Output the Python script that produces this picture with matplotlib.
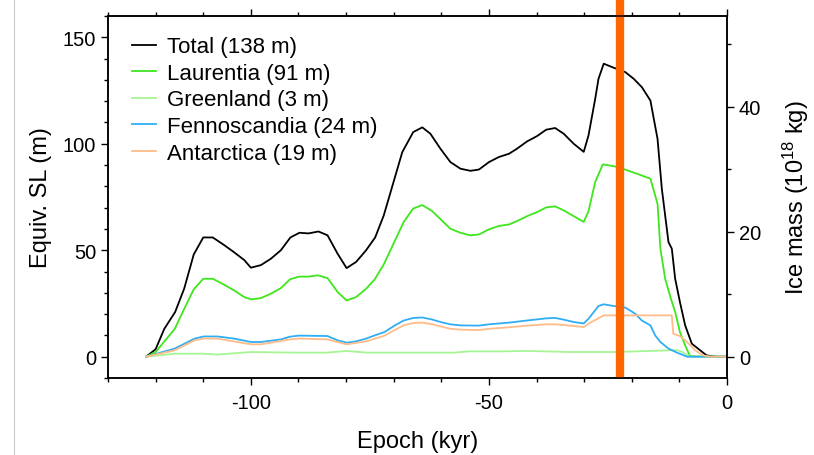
import matplotlib
matplotlib.use("Agg")
from matplotlib import pyplot as plt
from matplotlib.lines import Line2D
from matplotlib.ticker import MultipleLocator

plt.rcParams['font.family'] = ['Liberation Sans', 'DejaVu Sans']
plt.rcParams['mathtext.fontset'] = 'custom'
plt.rcParams['mathtext.rm'] = 'Liberation Sans'
plt.rcParams['mathtext.default'] = 'regular'
plt.rcParams['axes.unicode_minus'] = False

# ice sheet histories, epoch in kyr, equivalent sea level in m
total_t = [-122, -120, -118.2, -115.9, -114, -112, -110, -108, -105.6, -103.5, -101.4, -100,
           -97.9, -95.8, -93.7, -91.7, -89.8, -87.9, -85.8, -83.9, -81.8, -79.9, -77.9, -75.8,
           -73.9, -72.1, -68.2, -65.9, -64, -62.3, -60.2, -58.1, -56, -53.9, -52.1, -50, -47.9,
           -45.8, -44.1, -42, -39.9, -38, -36.1, -34.3, -32.2, -30.1, -29.1, -27.7, -27, -25.9,
           -23.8, -21.4, -19.6, -17.9, -16.1, -14.6, -13.7, -12.3, -11.6, -10.9, -9.9, -8.8,
           -7.4, -4.3, -2.2, 0]
total_sl = [0, 3.5, 13, 21, 32, 48, 56, 56, 52.4, 49, 45.4, 41.8,
            43, 46, 50, 56, 58.2, 57.9, 58.8, 57, 48.4, 41.6, 44.5, 50,
            56, 66.3, 96.1, 105.5, 107.7, 104.7, 97.7, 91.4, 88.3, 87.3, 87.9, 91.4, 93.8,
            95.3, 97.7, 101.1, 103.6, 106.6, 107.4, 104.7, 100, 96.2, 103.9, 121, 130.5, 137.6,
            135.7, 133.7, 130.5, 126.6, 120.3, 102.3, 78.9, 53.8, 50.7, 36.6, 25.7, 14.7,
            6.1, 0.6, 0, 0]

laur_t = [-122, -120, -116, -114, -112, -110, -108, -105.6, -103.5, -101.4, -99.9, -97.9,
          -95.8, -93.7, -91.8, -89.9, -88, -85.9, -83.9, -81.8, -79.9, -77.9, -75.8, -74,
          -72, -69.9, -67.9, -65.9, -64, -62, -59.9, -58.1, -56, -53.9, -52.1, -50, -47.9,
          -45.8, -44.1, -42, -39.9, -38, -36.1, -34.3, -32.2, -30.1, -29.1, -27.7, -26.1,
          -23.8, -21.4, -18.9, -16.1, -14.6, -14, -13, -11.9, -10.9, -9.9, -8.8, -7.8, -5, 0]
laur_sl = [0, 2.2, 13, 22.5, 31.6, 36.6, 36.6, 33.8, 31.1, 28, 26.9, 27.5,
           29.6, 32.2, 36.3, 37.6, 37.6, 38.2, 36.9, 30.4, 26.4, 28, 31.9, 36.3,
           43.7, 53.8, 63.3, 69.6, 71.2, 68.5, 64, 60.1, 58.2, 57, 57.4, 59.8, 61.4,
           62.1, 63.7, 66, 67.9, 70.1, 70.6, 68.7, 66, 63.3, 68.3, 82, 90.3,
           89.5, 87.9, 85.9, 83.6, 71.8, 50.7, 36.6, 28, 21, 11.6, 5.3, 0.3, 0, 0]

green_t = [-122, -116, -110, -107, -100, -90, -84, -80, -75.5, -64, -57.4, -54, -47, -42,
           -33, -23.5, -12, -10.3, -9.2, -7.8, 0]
green_sl = [0, 1.4, 1.4, 1.0, 2.2, 1.9, 1.9, 2.7, 1.9, 1.9, 1.9, 2.5, 2.5, 2.7,
            2.2, 2.2, 3.0, 3.0, 1.9, 0, 0]

fenno_t = [-122, -116, -111.8, -109.9, -107, -103.5, -100, -97.9, -93.7, -91.8, -89.9, -83.9,
           -81.8, -79.9, -77.9, -75.8, -74, -72, -69.9, -67.9, -65.9, -64, -62, -60.2, -58.1,
           -56, -52.1, -50, -45.8, -42, -38, -36.1, -34.3, -32.2, -30.1, -29.1, -27, -25.9,
           -23.8, -21.4, -19.3, -17.9, -16.1, -15.1, -14, -12.3, -10.5, -8.4, 0]
fenno_sl = [0, 3.8, 8.5, 9.5, 9.5, 8.5, 6.9, 6.9, 8.1, 9.4, 9.9, 9.7,
            7.7, 6.6, 7.2, 8.5, 10, 11.5, 14.5, 17, 18.2, 18.4, 17.5, 16.3, 15.2,
            14.7, 14.6, 15.2, 16, 17, 18, 18.2, 17.4, 16.3, 15.6, 17.8, 23.8, 24.6,
            23.8, 23.1, 20.2, 17, 14.7, 10, 6.9, 3.8, 1.9, 0, 0]

ant_t = [-122, -116, -111.8, -109.9, -107, -100, -97.9, -91.8, -89.9, -83.9, -79.9, -75.8,
         -72, -67.9, -65.9, -64, -61.9, -58.1, -56, -52.1, -50, -45.8, -42, -38, -36.1,
         -34.3, -30.1, -29.1, -25.9, -11.6, -11.3, -9.9, -8.4, -6.7, -5, -3.6, 0]
ant_sl = [0, 3, 7.7, 8.5, 8.5, 5.8, 5.8, 8.1, 8.5, 8.1, 5.8, 7.2,
          9.8, 14.8, 15.8, 16, 15.2, 13.1, 12.7, 12.5, 13.1, 13.8, 14.6, 15.2, 15.2,
          14.9, 13.9, 15.5, 19.4, 19.4, 10.8, 9.7, 6.9, 3, 0.6, 0, 0]

labels = ["Total (138 m)", "Laurentia (91 m)", "Greenland (3 m)",
          "Fennoscandia (24 m)", "Antarctica (19 m)"]
colors = ["#000000", "#3ee61c", "#a6f594", "#30aef5", "#ffbb88"]

marker_epoch = -22.4
sl_per_mass = 2.936  # m of sea level per 10^18 kg

fig = plt.figure(figsize=(8.14, 4.56), dpi=100)
ax = fig.add_axes([0.1327, 0.1689, 0.7605, 0.7938])

series = [(total_t, total_sl), (laur_t, laur_sl), (green_t, green_sl),
          (fenno_t, fenno_sl), (ant_t, ant_sl)]
for (t, sl), lab, c in zip(series, labels, colors):
    ax.plot(t, sl, color=c, lw=1.3, label=lab)

# current epoch marker
ax.plot([marker_epoch, marker_epoch], [-10, 175], color="#ff6600", lw=6,
        solid_capstyle="butt", clip_on=False, zorder=5)

ax.set_xlim(-130, 0)
ax.set_ylim(-10, 160)
ax.xaxis.set_major_locator(MultipleLocator(50))
ax.xaxis.set_minor_locator(MultipleLocator(10))
ax.yaxis.set_major_locator(MultipleLocator(50))
ax.yaxis.set_minor_locator(MultipleLocator(10))
ax.tick_params(which="both", direction="out", top=True, width=1.0, labelsize=14.5)
ax.tick_params(which="major", length=5)
ax.tick_params(which="minor", length=3)
ax.tick_params(axis="x", pad=6)
for s in ax.spines.values():
    s.set_linewidth(1.1)
ax.set_xlabel("Epoch (kyr)", fontsize=17, labelpad=13)
ax.set_ylabel("Equiv. SL (m)", fontsize=17, labelpad=8)

ax2 = ax.twinx()
ax2.set_ylim(-10 / sl_per_mass, 160 / sl_per_mass)
ax2.yaxis.set_major_locator(MultipleLocator(20))
ax2.yaxis.set_minor_locator(MultipleLocator(10))
ax2.tick_params(which="both", direction="out", width=1.0, labelsize=14.5)
ax2.tick_params(which="major", length=5)
ax2.tick_params(which="minor", length=3)
ax2.set_ylabel("Ice mass (10$^{18}$ kg)", fontsize=17, labelpad=14)
for s in ax2.spines.values():
    s.set_linewidth(1.1)

ax.legend(loc="upper left", bbox_to_anchor=(0.038, 0.944), frameon=False, fontsize=16,
          handlelength=1.1, handletextpad=0.5, labelspacing=0.25, borderpad=0,
          borderaxespad=0)

# faint frame edge on the left of the picture
fig.add_artist(Line2D([0.017, 0.017], [0, 1], color="#cccccc", lw=0.8))

fig.savefig("out.png", dpi=100)
